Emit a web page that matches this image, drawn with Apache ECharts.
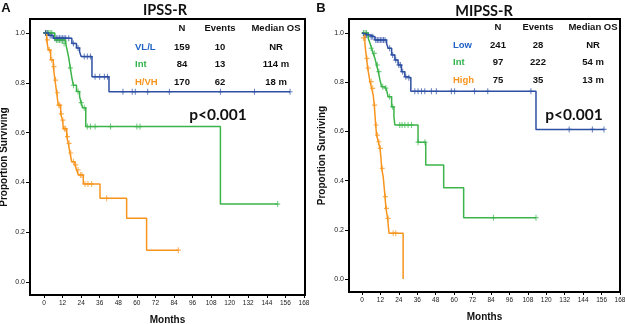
<!DOCTYPE html>
<html>
<head>
<meta charset="utf-8">
<script src="https://cdn.jsdelivr.net/npm/echarts@6/dist/echarts.min.js"></script>
<style>
  html, body {margin: 0; padding: 0; background: #fff;}
  #chart {width: 625px; height: 324px;}
</style>
</head>
<body>
<div id="chart"></div>
<script>
// axis ticks
const monthTicks = [0, 12, 24, 36, 48, 60, 72, 84, 96, 108, 120, 132, 144, 156, 168];
const survTicks = [0, 0.2, 0.4, 0.6, 0.8, 1.0];

// panel A: IPSS-R  (time in months, proportion surviving)
const ipssLow = [[0, 1], [3, 0.99], [6, 0.979], [18, 0.958], [21, 0.94], [23, 0.925], [24, 0.905], [31, 0.824], [42, 0.764], [159, 0.764]];
const ipssLowCens = [[1, 1], [2, 1], [4, 0.99], [5, 0.99], [7, 0.979], [8, 0.979], [9, 0.979], [10, 0.979], [11, 0.979], [12, 0.979], [13, 0.979], [14, 0.979], [16, 0.979],
  [19, 0.958], [22, 0.94], [26, 0.905], [28, 0.905], [30, 0.905], [33, 0.824], [36, 0.824], [39, 0.824], [41, 0.824],
  [51, 0.764], [57, 0.764], [59, 0.764], [67, 0.764], [81, 0.764], [114, 0.764], [136, 0.764], [159, 0.764]];
const ipssInt = [[0, 1], [7, 0.972], [14, 0.958], [15, 0.93], [16, 0.9], [17, 0.86], [18, 0.82], [19, 0.79], [21, 0.765], [23, 0.745], [24, 0.72], [25, 0.7], [27, 0.624], [114, 0.313], [151, 0.313]];
const ipssIntCens = [[1, 1], [2, 1], [3, 1], [4, 1], [5, 1], [8, 0.972], [9, 0.972], [10, 0.972], [11, 0.972], [12, 0.972], [13, 0.958],
  [17, 0.86], [19, 0.79], [22, 0.765], [24, 0.72], [26, 0.7], [28, 0.624], [30, 0.624], [33, 0.624], [43, 0.624], [60, 0.624], [62, 0.624], [151, 0.313]];
const ipssHigh = [[0, 1], [1.7, 0.972], [2.8, 0.932], [4.3, 0.892], [6, 0.865], [7.1, 0.811], [8.2, 0.76], [9.2, 0.71], [10.8, 0.675], [12, 0.65], [12.5, 0.615],
  [14.7, 0.584], [15.7, 0.557], [16.8, 0.518], [17.9, 0.483], [20, 0.47], [21.1, 0.45], [22.2, 0.43], [25.4, 0.394], [36.2, 0.336], [53.4, 0.256], [66.3, 0.128], [86.8, 0.128]];
const ipssHighCens = [[1, 1], [2.2, 0.972], [3.5, 0.932], [5, 0.892], [6.5, 0.865], [7.5, 0.811], [8.6, 0.76], [9.6, 0.71], [10.2, 0.71], [11.2, 0.675], [12.2, 0.65],
  [13.3, 0.615], [14, 0.615], [15.2, 0.584], [16.2, 0.557], [17.3, 0.518], [19, 0.483], [20.5, 0.47], [22, 0.45], [23.5, 0.43], [24.5, 0.43],
  [26.5, 0.394], [28.4, 0.394], [30.8, 0.394], [40.5, 0.336], [86.8, 0.128]];

// panel B: MIPSS-R
const mipssLow = [[0, 1], [1, 0.992], [5.2, 0.985], [8.4, 0.972], [16, 0.958], [17, 0.938], [19.3, 0.911], [21.4, 0.89], [23.5, 0.87], [25.7, 0.843], [27.9, 0.822], [30, 0.818], [31.8, 0.763], [113.3, 0.608], [157.6, 0.608]];
const mipssLowCens = [[2, 0.992], [3, 0.992], [4, 0.992], [6, 0.985], [7, 0.985], [9, 0.972], [10, 0.972], [11, 0.972], [12, 0.972], [13, 0.972], [14, 0.972], [15, 0.972],
  [18, 0.938], [20, 0.911], [22, 0.89], [24, 0.87], [25, 0.87], [26.5, 0.843], [28.5, 0.822], [30.5, 0.818],
  [34.4, 0.763], [36.5, 0.763], [38.7, 0.763], [40.9, 0.763], [45.2, 0.763], [48.4, 0.763], [58.2, 0.763], [60.3, 0.763], [73.3, 0.763], [81.9, 0.763], [110, 0.763],
  [134.9, 0.608], [150, 0.608], [157.6, 0.608]];
const mipssInt = [[0, 1], [4.1, 0.978], [5.2, 0.958], [6.3, 0.938], [7.3, 0.917], [8.4, 0.897], [9.5, 0.87], [10.6, 0.843], [11.7, 0.809], [12.8, 0.782], [14.9, 0.776],
  [16, 0.768], [17, 0.741], [19.3, 0.7], [20.8, 0.66], [21.4, 0.626], [36.5, 0.556], [41.5, 0.463], [53.2, 0.371], [66.2, 0.249], [113.3, 0.249]];
const mipssIntCens = [[1, 1], [2, 1], [3, 1], [6, 0.938], [8, 0.917], [10, 0.87], [11, 0.843], [13.5, 0.782], [15.5, 0.776], [18, 0.741], [20, 0.7],
  [24.6, 0.626], [26.1, 0.626], [27.9, 0.626], [30, 0.626], [32.2, 0.626], [36.5, 0.556], [41, 0.556], [85.6, 0.249], [113.3, 0.249]];
const mipssHigh = [[0, 1], [1.9, 0.958], [2.4, 0.925], [3, 0.897], [3.7, 0.857], [4.5, 0.829], [5.2, 0.802], [6.3, 0.775], [7.3, 0.748], [8, 0.707], [8.4, 0.673],
  [8.9, 0.626], [9.5, 0.585], [10.6, 0.558], [11.7, 0.531], [12.3, 0.497], [12.8, 0.45], [13.8, 0.416], [15, 0.335], [15.6, 0.287], [16.7, 0.246], [17.6, 0.186], [26.8, 0]];
const mipssHighCens = [[1, 0.98], [3.2, 0.897], [4, 0.857], [6, 0.802], [7, 0.775], [8.2, 0.707], [9.2, 0.626], [10, 0.585], [11, 0.558], [12, 0.531], [13.2, 0.45],
  [15.2, 0.335], [16, 0.287], [17, 0.246], [20.3, 0.186], [22, 0.186]];

// tables
const tableHead = ['N', 'Events', 'Median OS'];
const ipssGroups = ['VL/L', 'Int', 'H/VH'];
const ipssN = ['159', '84', '170'];
const ipssEvents = ['10', '13', '62'];
const ipssMedian = ['NR', '114 m', '18 m'];
const mipssGroups = ['Low', 'Int', 'High'];
const mipssN = ['241', '97', '75'];
const mipssEvents = ['28', '222', '35'];
const mipssMedian = ['NR', '54 m', '13 m'];

const lineColors = ['#2d4fa3', '#3bb44a', '#f7941d'];
const labelColors = ['#2163c4', '#2fb34a', '#f7941d'];
const FONT = 'Liberation Sans, Arial, sans-serif';
const plus = 'path://M4,0H6V4H10V6H6V10H4V6H0V4H4Z';

const chart = echarts.init(document.getElementById('chart'));

function xAxisFor(gi, min, max) {
  return {
    type: 'value', gridIndex: gi, min: min, max: max,
    axisLine: {show: false, onZero: false},
    splitLine: {show: false},
    axisTick: {show: true, length: 3, customValues: monthTicks, lineStyle: {color: '#000', width: 1}},
    axisLabel: {customValues: monthTicks, fontSize: 6.5, color: '#222', margin: 5, fontFamily: FONT},
    name: 'Months', nameLocation: 'middle', nameGap: 20,
    nameTextStyle: {fontWeight: 'bold', fontSize: 10, color: '#111', fontFamily: FONT}
  };
}
function yAxisFor(gi, min, max, gap) {
  return {
    type: 'value', gridIndex: gi, min: min, max: max,
    axisLine: {show: false, onZero: false},
    splitLine: {show: false},
    axisTick: {show: true, length: 4, customValues: survTicks, lineStyle: {color: '#000', width: 1}},
    axisLabel: {customValues: survTicks, fontSize: 7, color: '#222', margin: 5, fontFamily: FONT,
      formatter: (v) => v.toFixed(1)},
    name: 'Proportion Surviving', nameLocation: 'middle', nameGap: gap,
    nameTextStyle: {fontWeight: 'bold', fontSize: 10, color: '#111', fontFamily: FONT}
  };
}
function curve(data, gi, color) {
  return {type: 'line', step: 'end', data: data, xAxisIndex: gi, yAxisIndex: gi, showSymbol: false,
    lineStyle: {color: color, width: 1.5}, itemStyle: {color: color}, silent: true};
}
function censor(data, gi, color) {
  return {type: 'scatter', data: data, xAxisIndex: gi, yAxisIndex: gi, symbol: plus, symbolSize: [5, 6],
    itemStyle: {color: color, opacity: 0.75}, silent: true};
}
function txt(text, x, y, opts) {
  return {type: 'text', x: x, y: y, silent: true, style: Object.assign({
    text: text, fill: '#111', font: 'bold 9.5px ' + FONT, align: 'center', verticalAlign: 'middle',
    textAlign: 'center', textVerticalAlign: 'middle'}, opts || {})};
}
function table(groups, n, ev, med, labelX, cols, headY, rowYs) {
  const els = [];
  tableHead.forEach((h, i) => els.push(txt(h, cols[i], headY)));
  groups.forEach((g, r) => {
    els.push(txt(g, labelX, rowYs[r], {fill: labelColors[r], align: 'left', textAlign: 'left'}));
    els.push(txt(n[r], cols[0], rowYs[r]));
    els.push(txt(ev[r], cols[1], rowYs[r]));
    els.push(txt(med[r], cols[2], rowYs[r]));
  });
  return els;
}

const graphics = [].concat(
  [txt('A', 6, 8, {font: 'bold 13px ' + FONT}),
   txt('B', 321, 8, {font: 'bold 13px ' + FONT}),
   txt('IPSS-R', 165, 10, {font: 'bold 14.5px Lato, sans-serif'}),
   txt('MIPSS-R', 484, 11, {font: 'bold 14.5px Lato, sans-serif'}),
   txt('p<0.001', 218, 115, {font: 'bold 15.5px Lato, sans-serif'}),
   txt('p<0.001', 574, 115, {font: 'bold 15.5px Lato, sans-serif'})],
  table(ipssGroups, ipssN, ipssEvents, ipssMedian, 135, [182, 220, 276], 28, [47, 64, 82]),
  table(mipssGroups, mipssN, mipssEvents, mipssMedian, 453, [498, 538, 593], 27, [45, 62, 80])
);

chart.setOption({
  animation: false,
  backgroundColor: '#fff',
  grid: [
    {left: 30, top: 19, right: 320, bottom: 29, show: true, borderColor: '#000', borderWidth: 2,
      containLabel: false, outerBoundsMode: 'none'},
    {left: 349, top: 19, right: 5, bottom: 32, show: true, borderColor: '#000', borderWidth: 2,
      containLabel: false, outerBoundsMode: 'none'}
  ],
  xAxis: [xAxisFor(0, -9.04, 168.65), xAxisFor(1, -8.46, 168)],
  yAxis: [yAxisFor(0, -0.052, 1.056, 21), yAxisFor(1, -0.053, 1.057, 22)],
  series: [
    curve(ipssHigh, 0, lineColors[2]), censor(ipssHighCens, 0, lineColors[2]),
    curve(ipssInt, 0, lineColors[1]), censor(ipssIntCens, 0, lineColors[1]),
    curve(ipssLow, 0, lineColors[0]), censor(ipssLowCens, 0, lineColors[0]),
    curve(mipssHigh, 1, lineColors[2]), censor(mipssHighCens, 1, lineColors[2]),
    curve(mipssInt, 1, lineColors[1]), censor(mipssIntCens, 1, lineColors[1]),
    curve(mipssLow, 1, lineColors[0]), censor(mipssLowCens, 1, lineColors[0])
  ],
  graphic: graphics
});
</script>
</body>
</html>
